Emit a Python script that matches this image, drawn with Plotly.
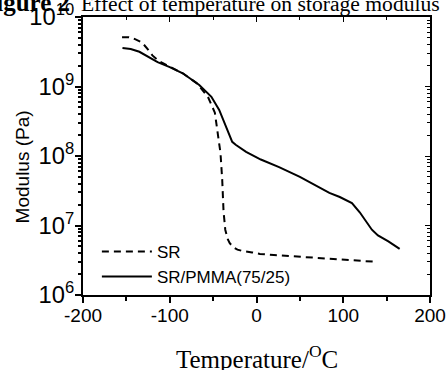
import plotly.graph_objects as go

sr_temp = [-155, -147, -140, -132, -125, -120, -112, -100, -85, -69, -56, -48, -45, -41.5,
           -39.5, -38, -36, -33, -31, -27, -22, -16, -5, 4, 20, 38, 60, 80, 100, 120, 138]
sr_mod = [5.1e9, 5.1e9, 4.8e9, 4.3e9, 3.4e9, 2.8e9, 2.3e9, 1.95e9, 1.55e9, 1.12e9, 7.1e8,
          4.2e8, 2.3e8, 1.1e8, 4.5e7, 1.6e7, 8.7e6, 6.3e6, 5.6e6, 4.9e6, 4.5e6, 4.3e6, 4.1e6,
          3.9e6, 3.76e6, 3.63e6, 3.5e6, 3.4e6, 3.27e6, 3.16e6, 3.0e6]

blend_temp = [-154.5, -145, -135, -125, -114, -100, -85, -66, -52, -43, -35, -28, -24, -12,
              5, 26, 50, 70, 84, 96, 110, 119, 127, 133, 140, 152, 165]
blend_mod = [3.58e9, 3.47e9, 3.16e9, 2.7e9, 2.24e9, 1.9e9, 1.55e9, 1.05e9, 7.1e8, 4.6e8,
             2.6e8, 1.6e8, 1.45e8, 1.15e8, 8.9e7, 6.9e7, 5.0e7, 3.7e7, 2.95e7, 2.57e7,
             2.1e7, 1.55e7, 1.12e7, 8.7e6, 7.2e6, 5.9e6, 4.6e6]

series_names = ["SR", "SR/PMMA(75/25)"]
x_ticks = [-200, -100, 0, 100, 200]
x_tick_labels = ["-200", "-100", "0", "100", "200"]

fig = go.Figure()
fig.add_trace(go.Scatter(x=sr_temp, y=sr_mod, mode="lines", name=series_names[0],
                         line=dict(color="black", width=2, dash="7px,5px")))
fig.add_trace(go.Scatter(x=blend_temp, y=blend_mod, mode="lines", name=series_names[1],
                         line=dict(color="black", width=2)))

axfont = dict(family="Liberation Sans, Arial", size=19, color="black")
fig.update_layout(
    template="none",
    width=448, height=370,
    margin=dict(l=83, r=18, t=17, b=75, autoexpand=False),
    paper_bgcolor="white", plot_bgcolor="white",
    showlegend=True,
    legend=dict(x=0.04, y=0.22, xanchor="left", yanchor="top",
                font=dict(family="Liberation Sans, Arial", size=17, color="black"),
                bgcolor="rgba(0,0,0,0)", tracegroupgap=0, itemwidth=50),
    xaxis=dict(range=[-200, 200], tickvals=x_ticks, ticktext=x_tick_labels, ticks="outside",
               ticklen=6, tickwidth=1.5, automargin=False, ticklabelstandoff=-4,
               showline=True, linecolor="black", linewidth=2, showgrid=False, zeroline=False,
               tickfont=axfont, tickcolor="black",
               minor=dict(dtick=50, ticks="outside", ticklen=4, tickcolor="black", showgrid=False)),
    yaxis=dict(type="log", range=[6, 10], dtick=1, exponentformat="power", ticks="outside",
               ticklen=6, tickwidth=1.5, showline=True, linecolor="black", linewidth=2,
               automargin=False, ticklabelstandoff=-3,
               showgrid=False, zeroline=False, tickfont=axfont, tickcolor="black",
               minor=dict(dtick="D1", ticks="outside", ticklen=3, tickcolor="black", showgrid=False)),
    xaxis2=dict(range=[-200, 200], overlaying="x", side="top", tickvals=x_ticks, ticks="inside",
                ticklen=5, showticklabels=False, showline=True, linecolor="black", linewidth=2,
                showgrid=False, zeroline=False, tickcolor="black", automargin=False,
                minor=dict(dtick=50, ticks="inside", ticklen=3, tickcolor="black", showgrid=False)),
    yaxis2=dict(type="log", range=[6, 10], dtick=1, overlaying="y", side="right", ticks="inside",
                ticklen=5, showticklabels=False, showline=True, linecolor="black", linewidth=2,
                showgrid=False, zeroline=False, tickcolor="black", automargin=False,
                minor=dict(dtick="D1", ticks="inside", ticklen=3, tickcolor="black", showgrid=False)),
)
# invisible trace to activate top/right axes
fig.add_trace(go.Scatter(x=[None], y=[None], xaxis="x2", yaxis="y2", showlegend=False,
                         hoverinfo="skip"))

fig.add_annotation(text="<span style='font-size:25px'><b>Figure 2</b></span>&nbsp;&nbsp;Effect of temperature on storage modulus",
                   xref="paper", yref="paper", x=1.0, y=1.0, xanchor="right", yanchor="bottom",
                   yshift=-1, xshift=12, showarrow=False,
                   font=dict(family="Liberation Serif, Times New Roman", size=21.6, color="black"))
fig.add_annotation(text="Modulus (Pa)", xref="paper", yref="paper", x=-0.175, y=0.46,
                   xanchor="center", yanchor="middle", textangle=-90, showarrow=False,
                   font=dict(family="Liberation Sans, Arial", size=19, color="black"))
fig.add_annotation(text="Temperature/<sup>O</sup>C", xref="paper", yref="paper", x=0.5, y=-0.16,
                   xanchor="center", yanchor="top", showarrow=False,
                   font=dict(family="Liberation Serif, Times New Roman", size=25, color="black"))

fig.write_html("out.html", config={"displayModeBar": False},
               post_script="document.body.style.margin='0';document.body.style.overflow='hidden';")
